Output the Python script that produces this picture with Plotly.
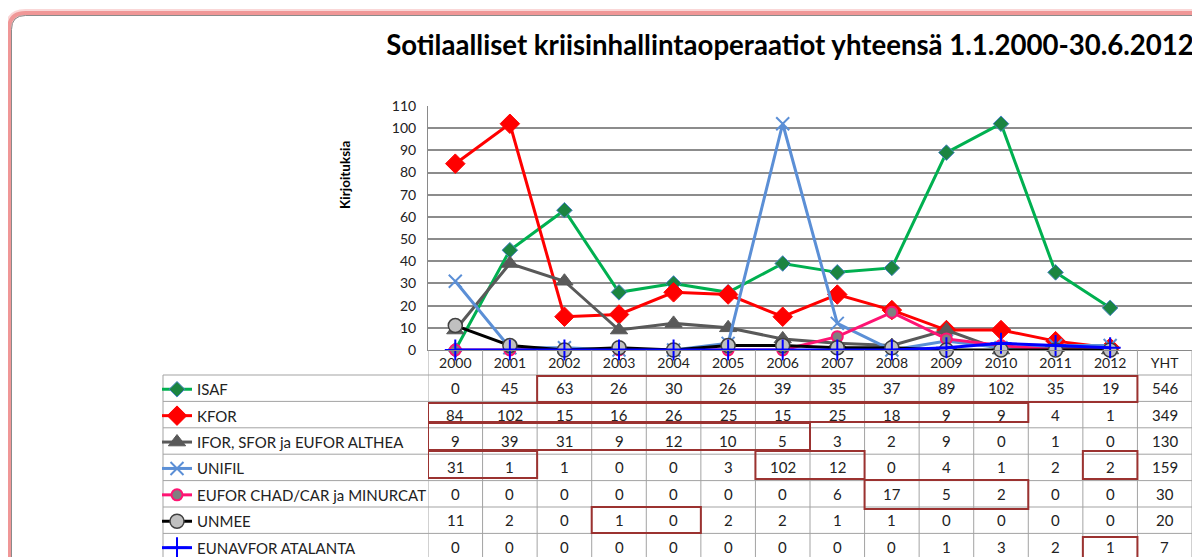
import plotly.graph_objects as go

# ---------------- data ----------------
years = ["2000", "2001", "2002", "2003", "2004", "2005", "2006",
         "2007", "2008", "2009", "2010", "2011", "2012"]
total_label = "YHT"

series_names = ["ISAF", "KFOR", "IFOR, SFOR ja EUFOR ALTHEA", "UNIFIL",
                "EUFOR CHAD/CAR ja MINURCAT", "UNMEE", "EUNAVFOR ATALANTA"]
isaf = [0, 45, 63, 26, 30, 26, 39, 35, 37, 89, 102, 35, 19]
kfor = [84, 102, 15, 16, 26, 25, 15, 25, 18, 9, 9, 4, 1]
ifor_sfor_althea = [9, 39, 31, 9, 12, 10, 5, 3, 2, 9, 0, 1, 0]
unifil = [31, 1, 1, 0, 0, 3, 102, 12, 0, 4, 1, 2, 2]
eufor_chad = [0, 0, 0, 0, 0, 0, 0, 6, 17, 5, 2, 0, 0]
unmee = [11, 2, 0, 1, 0, 2, 2, 1, 1, 0, 0, 0, 0]
eunavfor = [0, 0, 0, 0, 0, 0, 0, 0, 0, 1, 3, 2, 1]
totals = [546, 349, 130, 159, 30, 20, 7]

title_text = "Sotilaalliset kriisinhallintaoperaatiot yhteensä 1.1.2000-30.6.2012"
y_title = "Kirjoituksia"

# highlighted cell groups: (first column, last column, top px, bottom px)
highlights = [
    (2, 12, 376, 402),
    (0, 10, 403, 422),
    (0, 6, 423, 450),
    (0, 1, 451, 478),
    (6, 7, 451, 479),
    (12, 12, 451, 479),
    (8, 10, 480, 509),
    (3, 4, 507, 533),
    (12, 12, 537, 570),
]

# ---------------- layout geometry (screen pixels) ----------------
W, H = 1200, 557
OFF = 8  # page body margin offset
PLOT_LEFT, PLOT_RIGHT, PLOT_TOP, PLOT_BOTTOM = 428, 1192, 106, 350
L = PLOT_LEFT - OFF
T = PLOT_TOP - OFF
R = W - (PLOT_RIGHT - OFF)
B = H - (PLOT_BOTTOM - OFF)
PW, PH = PLOT_RIGHT - PLOT_LEFT, PLOT_BOTTOM - PLOT_TOP
FONT = "Lato, 'Liberation Sans', sans-serif"


def pxx(px):
    return (px - PLOT_LEFT) / PW


def pxy(py):
    return (PLOT_BOTTOM - py) / PH


ROW_TOP = 375
ROW_H = 26.4
TABLE_LEFT = 163

values = [isaf, kfor, ifor_sfor_althea, unifil, eufor_chad, unmee, eunavfor]
styles = [
    dict(line=dict(color="#00b050", width=3),
         marker=dict(symbol="diamond", size=12, color="#1b8441",
                     line=dict(color="#4a86c8", width=1))),
    dict(line=dict(color="#ff0000", width=3),
         marker=dict(symbol="diamond", size=15, color="#ff0000",
                     line=dict(color="#ff0000", width=1))),
    dict(line=dict(color="#595959", width=3),
         marker=dict(symbol="triangle-up", size=15, color="#595959",
                     line=dict(color="#595959", width=1))),
    dict(line=dict(color="#5b8fd6", width=3),
         marker=dict(symbol="x-thin", size=13, color="#5b8fd6",
                     line=dict(color="#5b8fd6", width=2))),
    dict(line=dict(color="#ff1473", width=3),
         marker=dict(symbol="circle", size=11, color="#808080",
                     line=dict(color="#ff1473", width=2))),
    dict(line=dict(color="#000000", width=3),
         marker=dict(symbol="circle", size=14, color="#c0c0c0",
                     line=dict(color="#404040", width=1.5))),
    dict(line=dict(color="#0000ff", width=3),
         marker=dict(symbol="cross-thin", size=15, color="#0000ff",
                     line=dict(color="#0000ff", width=2))),
]

fig = go.Figure()
xs = list(range(len(years)))
for i, (name, vals, st) in enumerate(zip(series_names, values, styles)):
    fig.add_trace(go.Scatter(x=xs, y=vals, name=name, mode="lines+markers",
                             legendgroup="g%d" % i, cliponaxis=False, **st))

ncols = len(years) + 1
tickvals = list(range(ncols))
ticktext = years + [total_label]

shapes = []
grid_col = "#a3a3a3"
for r in range(len(series_names) + 1):
    y = ROW_TOP + r * ROW_H
    shapes.append(dict(type="line", xref="paper", yref="paper",
                       x0=pxx(TABLE_LEFT), x1=1, y0=pxy(y), y1=pxy(y),
                       line=dict(color=grid_col, width=1), layer="above"))
for k in range(ncols + 1):
    shapes.append(dict(type="line", xref="x", yref="paper",
                       x0=k - 0.5, x1=k - 0.5, y0=0, y1=pxy(H + 20),
                       line=dict(color=grid_col, width=1), layer="above"))
shapes.append(dict(type="line", xref="paper", yref="paper",
                   x0=pxx(TABLE_LEFT), x1=pxx(TABLE_LEFT),
                   y0=pxy(ROW_TOP), y1=pxy(H + 20),
                   line=dict(color=grid_col, width=1), layer="above"))
for c0, c1, yt, yb in highlights:
    shapes.append(dict(type="rect", xref="x", yref="paper",
                       x0=c0 - 0.5, x1=c1 + 0.5, y0=pxy(yb), y1=pxy(yt),
                       line=dict(color="#9b3230", width=2), layer="above"))

# outer rounded frame
fx, fy, rad = 11.5, 15.5, 14


def frame_path(off):
    x = fx - off
    y = fy - off
    rr = rad + off
    return ("M %f,%f L %f,%f Q %f,%f %f,%f L %f,%f" % (
        pxx(x), pxy(H + 30), pxx(x), pxy(y + rr), pxx(x), pxy(y),
        pxx(x + rr), pxy(y), pxx(W + 30), pxy(y)))


shapes.append(dict(type="path", xref="paper", yref="paper", path=frame_path(3),
                   line=dict(color="rgba(240,140,140,0.35)", width=7), layer="below"))
shapes.append(dict(type="path", xref="paper", yref="paper", path=frame_path(2.5),
                   line=dict(color="rgba(236,130,130,0.75)", width=4), layer="below"))
shapes.append(dict(type="path", xref="paper", yref="paper", path=frame_path(0),
                   line=dict(color="#8a8a8a", width=1), layer="below"))

annotations = []
for r, vals in enumerate(values):
    yc = pxy(ROW_TOP + (r + 0.5) * ROW_H)
    for j, v in enumerate(vals + [totals[r]]):
        annotations.append(dict(x=j, y=yc, xref="x", yref="paper", text=str(v),
                                xanchor="center", yanchor="middle",
                                showarrow=False, font=dict(size=15, color="#222222",
                                                           family=FONT)))
annotations.append(dict(x=pxx(345), y=pxy(175), xref="paper", yref="paper",
                        xanchor="center", yanchor="middle",
                        text="<b>" + y_title + "</b>", textangle=-90, showarrow=False,
                        font=dict(size=13.5, color="#000000", family=FONT)))

fig.update_layout(
    width=W, height=H,
    margin=dict(l=L, r=R, t=T, b=B, autoexpand=False),
    paper_bgcolor="#ffffff", plot_bgcolor="rgba(0,0,0,0)",
    font=dict(family=FONT, size=15, color="#222222"),
    title=dict(text="<b>" + title_text + "</b>", xref="container", yref="container",
               x=(790 - OFF) / W, y=1 - (45 - OFF) / H, xanchor="center", yanchor="middle",
               font=dict(size=27.6, color="#000000", family=FONT)),
    xaxis=dict(range=[-0.5, ncols - 0.5], tickvals=tickvals, ticktext=ticktext,
               showgrid=False, zeroline=False, showline=True, linecolor="#8a8a8a",
               linewidth=1, ticks="", tickfont=dict(size=14, color="#222222"),
               fixedrange=True),
    yaxis=dict(range=[0, 110], dtick=10, showgrid=True, gridcolor="#8c8c8c",
               gridwidth=1.5, zeroline=False, showline=True, linecolor="#8a8a8a",
               linewidth=1, ticks="", tickfont=dict(size=14, color="#222222"),
               ticklabelstandoff=8, fixedrange=True),
    showlegend=True,
    legend=dict(x=pxx(TABLE_LEFT - 6), y=pxy(ROW_TOP - 2), xanchor="left", yanchor="top",
                bgcolor="rgba(0,0,0,0)", font=dict(size=15, color="#222222"),
                tracegroupgap=3.9, traceorder="grouped", itemsizing="trace"),
    shapes=shapes, annotations=annotations,
)

fig.write_html("out.html")
